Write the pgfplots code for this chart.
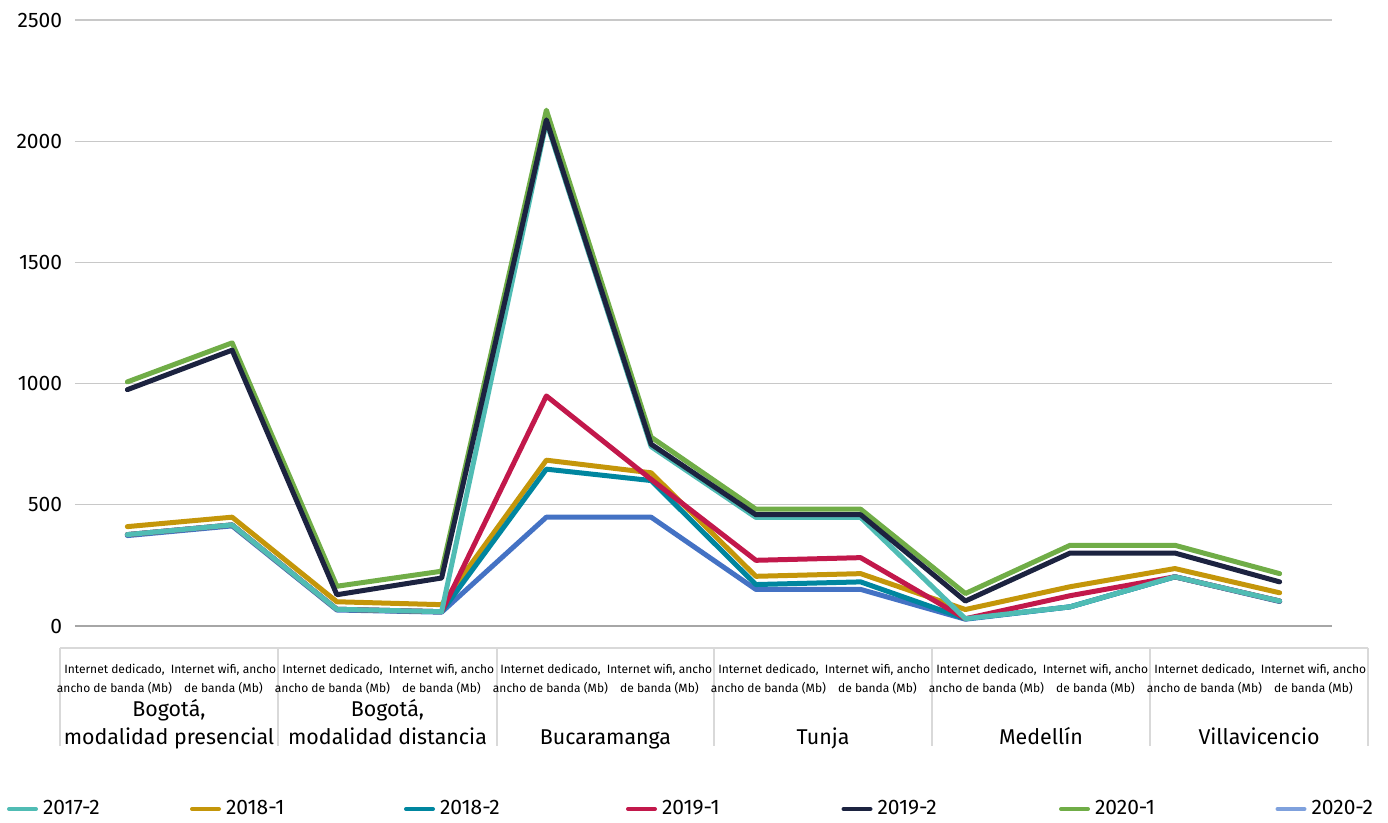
\documentclass[border=0pt]{standalone}
\usepackage{fontspec}
\setmainfont{Fira Sans}
\usepackage{pgfplots}
\pgfplotsset{compat=1.18}
\definecolor{cA}{HTML}{50BCB4}
\definecolor{cB}{HTML}{C4960A}
\definecolor{cC}{HTML}{00869F}
\definecolor{cD}{HTML}{C2184B}
\definecolor{cE}{HTML}{1C2340}
\definecolor{cF}{HTML}{70AD47}
\definecolor{cG}{HTML}{4472C4}
\definecolor{cGl}{HTML}{7FA1DD}
\definecolor{gridc}{HTML}{C8C8C8}
\definecolor{axisc}{HTML}{A6A6A6}
\definecolor{sepc}{HTML}{D9D9D9}
\begin{document}
\begin{tikzpicture}
\useasboundingbox (0,0) rectangle (694pt,-411.5pt);
\begin{axis}[
  at={(37.5pt,-313pt)}, anchor=south west,
  scale only axis, width=628.5pt, height=303pt,
  xmin=-0.5, xmax=11.5, ymin=0, ymax=2500,
  xtick=\empty,
  ytick={0,500,...,2500},
  ymajorgrids, grid style={color=gridc, line width=0.6pt},
  axis line style={draw=none},
  tick style={draw=none},
  /pgf/number format/assume math mode=true,
  /pgf/number format/1000 sep={},
  yticklabel style={font=\fontsize{10.5}{12}\selectfont, inner sep=0pt, xshift=-6.25pt},
  legend columns=7,
  legend style={at={(-0.0541,-0.302)}, anchor=west, draw=none, fill=none,
    inner sep=0pt, outer sep=0pt, font=\fontsize{10.5}{12}\selectfont,
    /tikz/every odd column/.style={column sep=2.5pt},
    /tikz/every even column/.style={column sep=0pt},
    nodes={inner sep=0pt, align=left}},
  legend cell align=left,
  legend image code/.code={\draw[#1, line width=2pt] (0pt,0pt) -- (13.5pt,0pt);},
  every axis plot/.append style={line width=2.5pt, line join=round, line cap=round, mark=none},
]
\draw[axisc, line width=0.8pt] (rel axis cs:0,0) -- (rel axis cs:1,0);
% 2020-2
\addplot[cG, forget plot] coordinates {(0,373) (1,413) (2,66) (3,57) (4,449) (5,449) (6,151) (7,151) (8,28) (9,79) (10,203) (11,101)};
% 2018-1
\addplot[cB, forget plot] coordinates {(0,410) (1,449) (2,100) (3,88) (4,684) (5,632) (6,205) (7,216) (8,68) (9,162) (10,237) (11,137)};
% 2018-2
\addplot[cC, forget plot] coordinates {(0,377) (1,417) (2,69) (3,59) (4,647) (5,600) (6,171) (7,182) (8,30) (9,79) (10,203) (11,103)};
% 2019-1
\addplot[cD, forget plot] coordinates {(0,377) (1,417) (2,69) (3,59) (4,949) (5,605) (6,271) (7,282) (8,30) (9,125) (10,203) (11,103)};
% 2017-2
\addplot[cA, forget plot] coordinates {(0,377) (1,417) (2,69) (3,59) (4,2080) (5,740) (6,448) (7,448) (8,30) (9,79) (10,203) (11,103)};
% 2020-1
\addplot[cF, forget plot] coordinates {(0,1007) (1,1168) (2,164) (3,226) (4,2128) (5,779) (6,482) (7,482) (8,134) (9,333) (10,333) (11,216)};
% 2019-2
\addplot[cE, forget plot] coordinates {(0,975) (1,1138) (2,129) (3,198) (4,2088) (5,750) (6,459) (7,459) (8,103) (9,301) (10,301) (11,182)};
\addlegendimage{color=cA}\addlegendentry[text width=73.5pt]{2017-2}
\addlegendimage{color=cB}\addlegendentry[text width=89pt]{2018-1}
\addlegendimage{color=cC}\addlegendentry[text width=93pt]{2018-2}
\addlegendimage{color=cD}\addlegendentry[text width=89.75pt]{2019-1}
\addlegendimage{color=cE}\addlegendentry[text width=90.75pt]{2019-2}
\addlegendimage{color=cF}\addlegendentry[text width=90.25pt]{2020-1}
\addlegendimage{color=cGl}\addlegendentry[text width=34pt]{2020-2}
\end{axis}
\begin{scope}[x=0.5pt,y=-0.5pt]
\draw[sepc, line width=0.6pt] (60,648) -- (1368,648);
\foreach \x in {60,278,497,714,932,1150,1368} \draw[sepc, line width=0.6pt] (\x,648) -- (\x,746);
\foreach \k in {0,...,5} {
  \pgfmathsetmacro{\xa}{114.5+218*\k}
  \pgfmathsetmacro{\xb}{223.5+218*\k}
  \node[anchor=base, inner sep=0pt, font=\fontsize{6}{7}\selectfont] at (\xa,674) {Internet dedicado,};
  \node[anchor=base, inner sep=0pt, font=\fontsize{6}{7}\selectfont] at (\xa,692) {ancho de banda (Mb)};
  \node[anchor=base, inner sep=0pt, font=\fontsize{6}{7}\selectfont] at (\xb,674) {Internet wifi, ancho};
  \node[anchor=base, inner sep=0pt, font=\fontsize{6}{7}\selectfont] at (\xb,692) {de banda (Mb)};
}
\tikzset{grp/.style={anchor=base, inner sep=0pt, font=\fontsize{10.7}{12}\selectfont}}
\node[grp] at (169,716) {Bogotá,};
\node[grp] at (169,744) {modalidad presencial};
\node[grp] at (387.5,716) {Bogotá,};
\node[grp] at (387.5,744) {modalidad distancia};
\node[grp] at (605.5,744) {Bucaramanga};
\node[grp] at (823,744) {Tunja};
\node[grp] at (1041,744) {Medellín};
\node[grp] at (1259,744) {Villavicencio};
\end{scope}
\end{tikzpicture}
\end{document}
